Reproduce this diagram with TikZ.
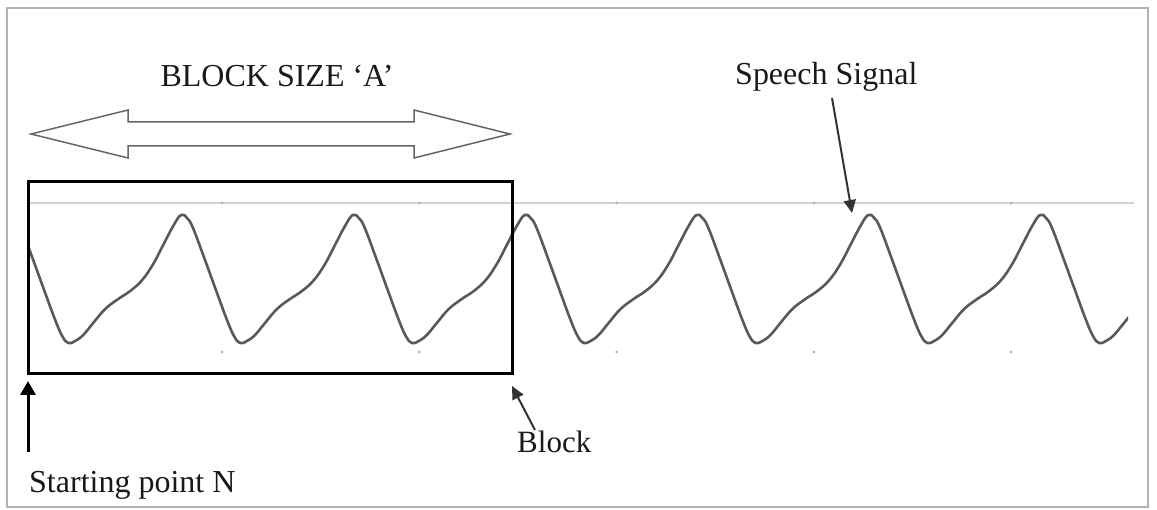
\documentclass[tikz,border=0pt]{standalone}
\usepackage{fontspec}
\setmainfont{Liberation Serif}
\usepackage{tikz}
\usetikzlibrary{arrows.meta}

\begin{document}
\begin{tikzpicture}[x=1pt, y=-1pt, >={Triangle[length=13pt,width=12pt]},
  lbl/.style={font=\fontsize{32}{36}\selectfont, text=black!90, inner sep=0pt, anchor=base west},
  pointer/.style={->, black!80, line width=2pt}]
  \useasboundingbox (0,0) rectangle (1157,510);
  \draw[gray!60, line width=1.5pt] (7,8) rectangle (1148,507);
  % chart line and tick dots
  \draw[gray!35, line width=1.5pt] (30,203) -- (1134,203);
  \foreach \i in {0,...,4}{
    \fill[gray!60] (222+197.25*\i,203) circle(1.5pt);
    \fill[gray!60] (222+197.25*\i,352) circle(1.5pt);
  }
  % speech signal, one period repeated
  \def\wavepts{}
  \foreach \k in {-1,...,5}{
    \foreach \dx/\yy in {0/215,6/218,12/228,24/260,36/293,46/320,53/336,59/343,66/341,74/335,84/323,96/309,109/299,121/291,133/280,144/264,154/245,164/226}{
      \pgfmathsetmacro\xx{181+171.8*\k+\dx}
      \xdef\wavepts{\wavepts (\xx,\yy)}
    }
  }
  \begin{scope}
    \clip (27,0) rectangle (1128,510);
    \edef\wavecmd{\noexpand\draw[black!65, line width=2.6pt, line join=round] plot[smooth, tension=0.7] coordinates {\wavepts};}
    \wavecmd
  \end{scope}
  % block
  \coordinate (blkNW) at (28,182);
  \coordinate (blkSE) at (512,374);
  \draw[line width=3pt] (blkNW) rectangle (blkSE);
  % block size arrow
  \draw[gray!80!black, line width=1.5pt] (31,134) -- (128,110) -- (128,122) -- (414,122) -- (414,110)
    -- (510,134) -- (414,158) -- (414,146) -- (128,146) -- (128,158) -- cycle;
  % labels
  \node[lbl, anchor=base] (size) at (277,87) {BLOCK SIZE ‘A’};
  \node[lbl] (sig) at (735,85) {Speech Signal};
  \node[lbl, font=\fontsize{31}{36}\selectfont] (blk) at (517,453) {Block};
  \node[lbl] (start) at (29,492) {Starting point N};
  % pointers
  \coordinate (sigtail) at (832,98);
  \coordinate (sigtip) at (852,213);
  \coordinate (blktail) at (535,430);
  \coordinate (blktip) at (512,386);
  \coordinate (sttail) at (28,452);
  \coordinate (sttip) at (28,381);
  \draw[pointer] (sigtail) -- (sigtip);
  \draw[pointer] (blktail) -- (blktip);
  \draw[pointer, black, line width=3pt, >={Triangle[length=14pt,width=15pt]}] (sttail) -- (sttip);
\end{tikzpicture}
\end{document}
